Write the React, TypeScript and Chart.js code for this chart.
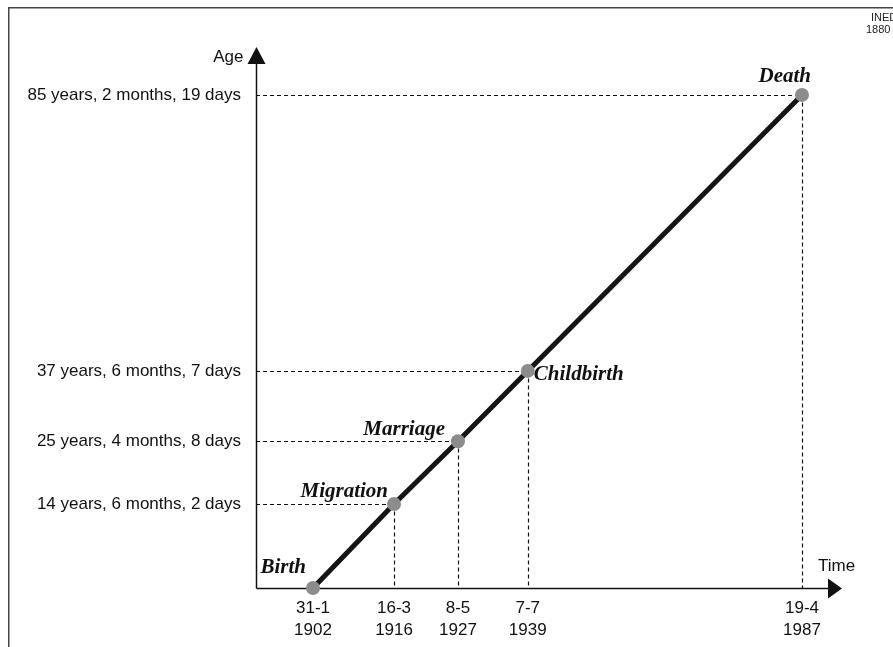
import React, { useEffect, useRef } from "react";
import { Chart, registerables } from "chart.js";

Chart.register(...registerables);

// ---- data ----
const events = ["Birth", "Migration", "Marriage", "Childbirth", "Death"];
// decimal calendar dates of each event
const eventYears = [1902.082, 1916.205, 1927.348, 1939.512, 1987.296];
// age (years) at each event
const eventAges = [0, 14.51, 25.355, 37.52, 85.22];
const dateLabels = [
  ["31-1", "1902"],
  ["16-3", "1916"],
  ["8-5", "1927"],
  ["7-7", "1939"],
  ["19-4", "1987"],
];
const ageLabels = [
  "",
  "14 years, 6 months, 2 days",
  "25 years, 4 months, 8 days",
  "37 years, 6 months, 7 days",
  "85 years, 2 months, 19 days",
];
const ageTickValues = eventAges.slice(1);
const ageTickLabels = ageLabels.slice(1);

// label placement (style only): [dx, dy, align]
const labelPlacement: [number, number, CanvasTextAlign][] = [
  [-7, -20, "right"],
  [-6, -12, "right"],
  [-13, -12, "right"],
  [6, 4, "left"],
  [9, -18, "right"],
];

const SANS = "'Liberation Sans', Arial, Helvetica, sans-serif";
const SERIF = "'Liberation Serif', 'Times New Roman', serif";

const overlay = {
  id: "overlay",
  beforeDatasetsDraw(chart: any) {
    const { ctx } = chart;
    const x = chart.scales.x;
    const y = chart.scales.y;
    ctx.save();
    // dashed guides
    ctx.strokeStyle = "#111";
    ctx.lineWidth = 1.2;
    ctx.setLineDash([4, 3]);
    for (let i = 1; i < events.length; i++) {
      const px = Math.round(x.getPixelForValue(eventYears[i])) + 0.5;
      const py = Math.round(y.getPixelForValue(eventAges[i])) + 0.5;
      ctx.beginPath();
      ctx.moveTo(x.left, py);
      ctx.lineTo(px, py);
      ctx.moveTo(px, py);
      ctx.lineTo(px, y.bottom);
      ctx.stroke();
    }
    ctx.setLineDash([]);
    // axes
    ctx.strokeStyle = "#111";
    ctx.lineWidth = 1.5;
    const ax = Math.round(x.left) + 0.5;
    const ay = Math.round(y.bottom) + 0.5;
    ctx.beginPath();
    ctx.moveTo(ax, ay);
    ctx.lineTo(x.right - 8, ay);
    ctx.moveTo(ax, ay);
    ctx.lineTo(ax, y.top + 8);
    ctx.stroke();
    ctx.fillStyle = "#111";
    // y arrow
    ctx.beginPath();
    ctx.moveTo(ax, y.top);
    ctx.lineTo(ax - 9, y.top + 17);
    ctx.lineTo(ax + 9, y.top + 17);
    ctx.closePath();
    ctx.fill();
    // x arrow
    ctx.beginPath();
    ctx.moveTo(x.right, ay);
    ctx.lineTo(x.right - 14, ay - 10);
    ctx.lineTo(x.right - 14, ay + 10);
    ctx.closePath();
    ctx.fill();
    // axis titles
    ctx.font = `17px ${SANS}`;
    ctx.textBaseline = "middle";
    ctx.textAlign = "right";
    ctx.fillText("Age", ax - 13, y.top + 10);
    ctx.textAlign = "left";
    ctx.fillText("Time", x.right - 24, ay - 22);
    ctx.restore();
  },
  afterDatasetsDraw(chart: any) {
    const { ctx } = chart;
    const x = chart.scales.x;
    const y = chart.scales.y;
    ctx.save();
    ctx.fillStyle = "#111";
    ctx.font = `italic bold 21px ${SERIF}`;
    ctx.textBaseline = "middle";
    events.forEach((name, i) => {
      const px = x.getPixelForValue(eventYears[i]);
      const py = y.getPixelForValue(eventAges[i]);
      const [dx, dy, al] = labelPlacement[i];
      ctx.textAlign = al;
      ctx.fillText(name, px + dx, py + dy);
    });
    ctx.restore();
  },
  afterDraw(chart: any) {
    const { ctx } = chart;
    ctx.save();
    ctx.strokeStyle = "#444";
    ctx.lineWidth = 1.5;
    ctx.beginPath();
    ctx.moveTo(0.75, chart.height + 5);
    ctx.lineTo(0.75, 0.75);
    ctx.lineTo(chart.width + 5, 0.75);
    ctx.stroke();
    ctx.fillStyle = "#222";
    ctx.font = `11px ${SANS}`;
    ctx.textAlign = "left";
    ctx.textBaseline = "middle";
    ctx.fillText("INED", 863, 11);
    ctx.fillText("1880", 858, 23);
    ctx.restore();
  },
};

export default function App() {
  const ref = useRef<HTMLCanvasElement>(null);
  useEffect(() => {
    document.body.style.overflow = "hidden";
    if (!ref.current) return;
    const chart = new Chart(ref.current, {
      type: "line",
      data: {
        datasets: [
          {
            data: eventYears.map((v, i) => ({ x: v, y: eventAges[i] })),
            borderColor: "#151515",
            borderWidth: 5,
            pointRadius: 7,
            pointHoverRadius: 7,
            pointBackgroundColor: "#8c8c8c",
            pointBorderWidth: 0,
            tension: 0,
            fill: false,
            clip: false,
          } as any,
        ],
      },
      options: {
        responsive: false,
        animation: false,
        events: [],
        layout: { padding: { left: 0, top: 40, right: 51, bottom: 0 } },
        plugins: {
          legend: { display: false },
          tooltip: { enabled: false },
        },
        scales: {
          x: {
            type: "linear",
            min: 1892.15,
            max: 1994.27,
            grid: { display: false, drawTicks: false },
            border: { display: false },
            afterBuildTicks: (s: any) => {
              s.ticks = eventYears.map((v) => ({ value: v }));
            },
            afterFit: (s: any) => {
              s.height = 59;
            },
            ticks: {
              autoSkip: false,
              maxRotation: 0,
              padding: 10,
              color: "#111",
              font: { family: SANS, size: 17, lineHeight: 1.25 },
              callback: (_v: any, i: number) => dateLabels[i],
            },
          },
          y: {
            type: "linear",
            min: 0,
            max: 93.5,
            grid: { display: false, drawTicks: false },
            border: { display: false },
            afterBuildTicks: (s: any) => {
              s.ticks = ageTickValues.map((v) => ({ value: v }));
            },
            afterFit: (s: any) => {
              s.width = 248;
            },
            ticks: {
              autoSkip: false,
              padding: 15,
              color: "#111",
              font: { family: SANS, size: 17 },
              callback: (_v: any, i: number) => ageTickLabels[i],
            },
          },
        },
      },
      plugins: [overlay],
    });
    return () => chart.destroy();
  }, []);
  return (
    <div style={{ position: "fixed", left: 8, top: 7, width: 885, height: 640 }}>
      <canvas ref={ref} width={885} height={640} style={{ display: "block" }} />
    </div>
  );
}
